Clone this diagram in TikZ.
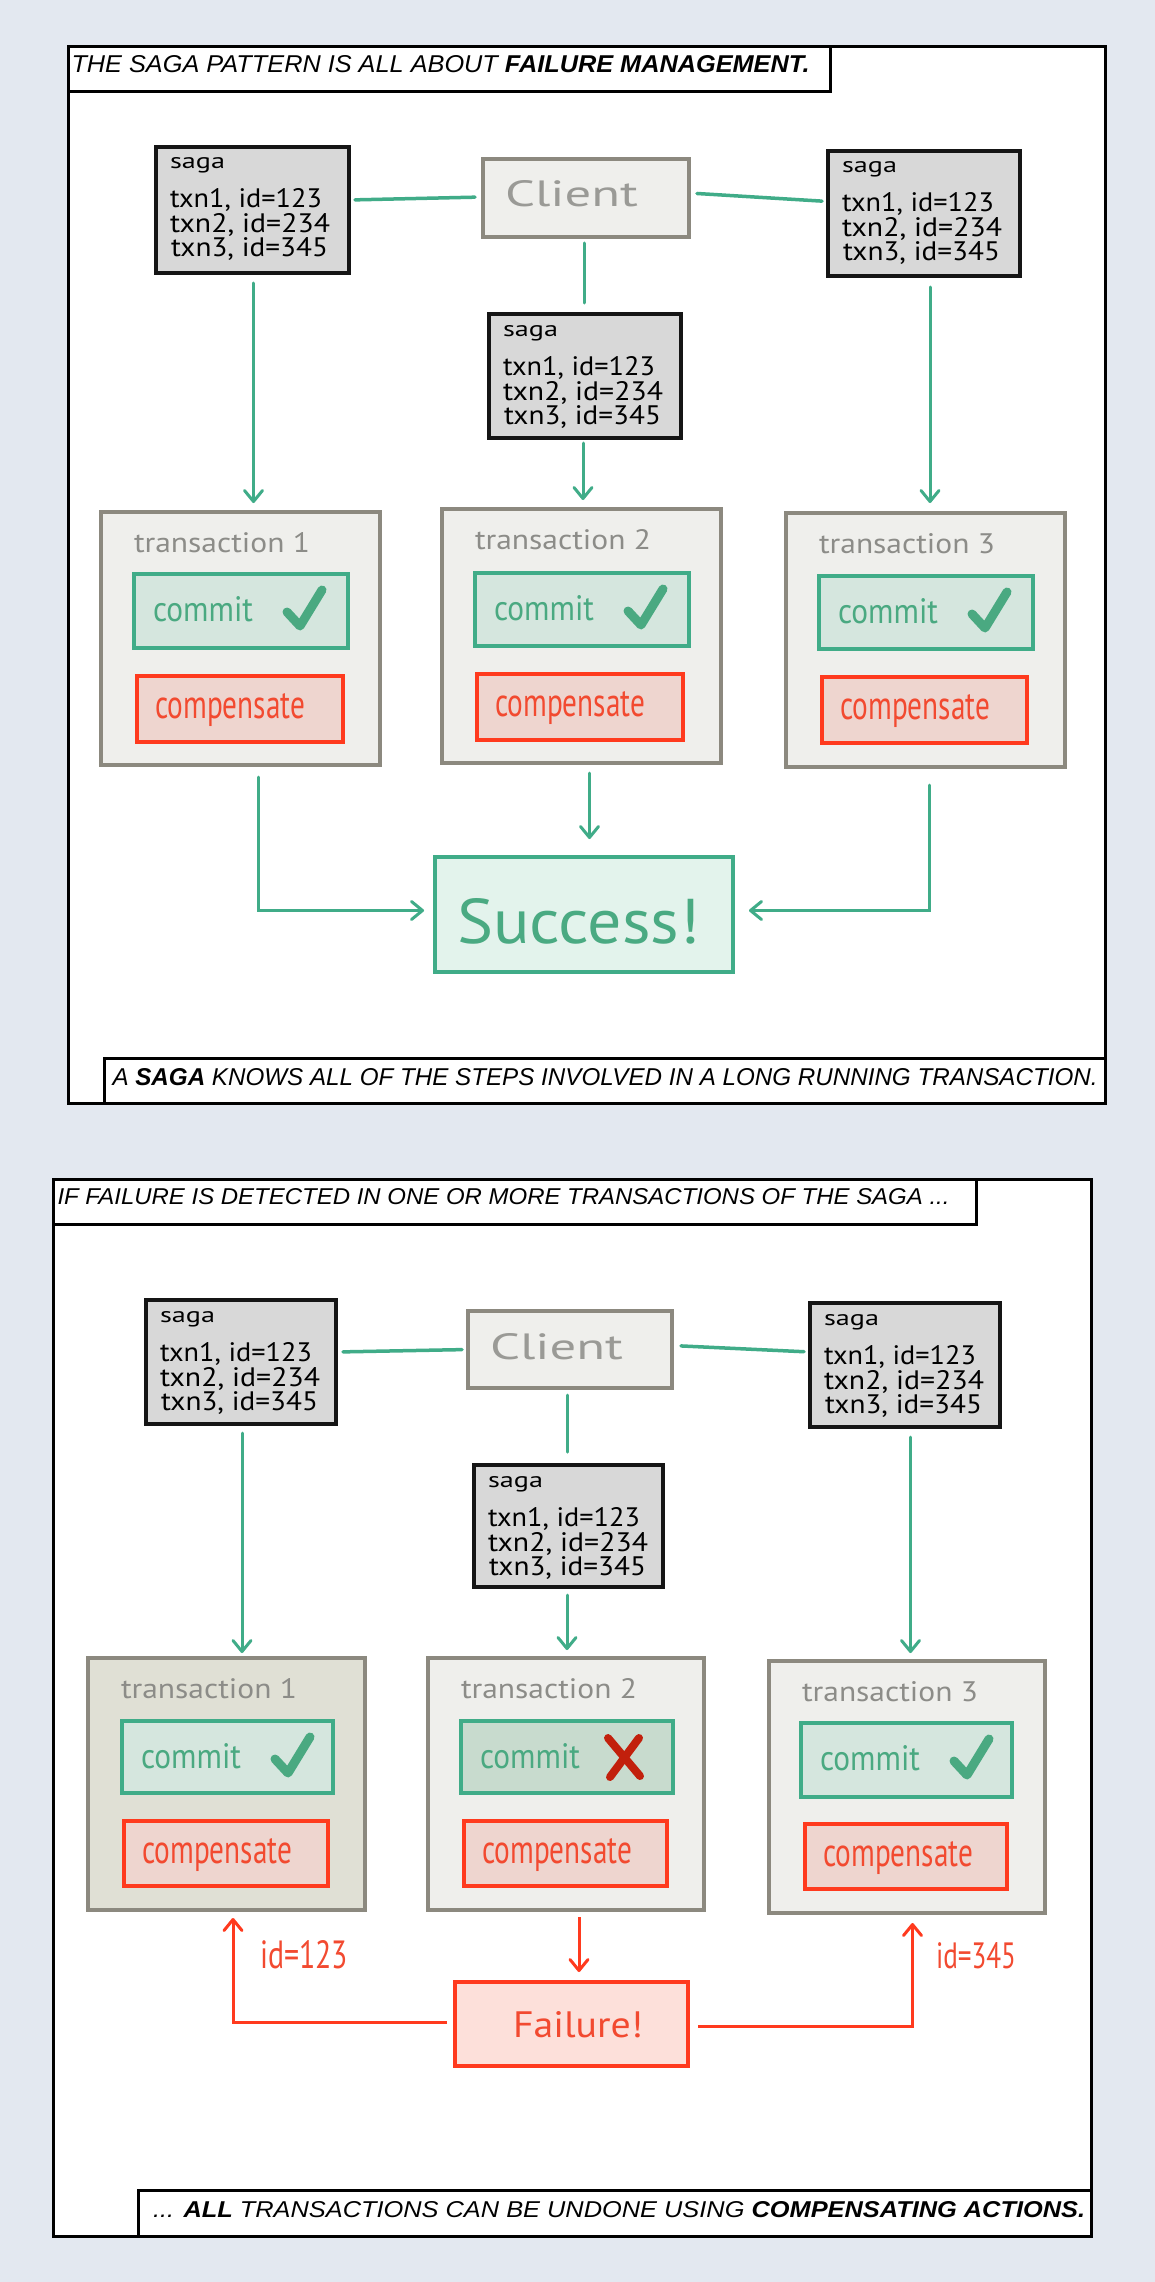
\documentclass[tikz,border=0pt]{standalone}
\usepackage{fontspec}
\usetikzlibrary{arrows.meta,calc}
\newfontfamily\hand{PT Sans}
\newfontfamily\capfont{Liberation Sans}
\definecolor{bgc}{HTML}{E3E8F0}
\definecolor{sagafill}{HTML}{D8D8D8}
\definecolor{sagaborder}{HTML}{151515}
\definecolor{clientfill}{HTML}{EFEFEC}
\definecolor{txborder}{HTML}{8C897F}
\definecolor{clienttext}{HTML}{9A9A96}
\definecolor{txfill}{HTML}{EFEFEC}
\definecolor{txfilldark}{HTML}{E0E0D5}
\definecolor{txtitle}{HTML}{8C8C88}
\definecolor{grn}{HTML}{40AC88}
\definecolor{commitfill}{HTML}{D5E6DE}
\definecolor{commitfilldark}{HTML}{C8DBCE}
\definecolor{checkc}{HTML}{4AA981}
\definecolor{redb}{HTML}{FF3A1E}
\definecolor{compfill}{HTML}{EED5CF}
\definecolor{comptext}{HTML}{F24A30}
\definecolor{succfill}{HTML}{E3F3EC}
\definecolor{succtext}{HTML}{4AAA82}
\definecolor{failfill}{HTML}{FDE0DA}
\definecolor{xmarkc}{HTML}{C2200C}
\newcommand\fitt[3]{\resizebox{#1pt}{#2pt}{#3}}
\newcommand\bx[6]{\node[#1, minimum width=#5pt, minimum height=#6pt] (#2) at (#3,#4) {};}
\newcommand\sagatexts[1]{%
  \node[txt] (#1-a) at ($(#1.north west)+(14,22)$) {\fitt{55}{11}{\hand saga}};
  \node[txt] (#1-b) at ($(#1.north west)+(14,61)$) {\fitt{152}{19}{\hand txn1, id=123}};
  \node[txt] (#1-c) at ($(#1.north west)+(14,86)$) {\fitt{160}{19}{\hand txn2, id=234}};
  \node[txt] (#1-d) at ($(#1.north west)+(15,110)$) {\fitt{157}{19}{\hand txn3, id=345}};}
\newcommand\committext[1]{%
  \node[txt, text=checkc] (#1-t) at ($(#1.north west)+(19,47)$) {\fitt{100}{25}{\hand commit}};}
\newcommand\comptext[1]{%
  \node[txt, text=comptext] (#1-t) at ($(#1.north west)+(18,42)$) {\fitt{150}{25}{\hand compensate}};}
\newcommand\chkmark[1]{%
  \draw[check] ($(#1.north west)+(153,38)$) -- ++(13,14) -- ++(22,-36);}
\newcommand\txtitle[2]{%
  \node[txt, text=txtitle] (#1-t) at ($(#1.north west)+(33,40)$) {\fitt{176}{20}{\hand transaction #2}};}
\tikzset{
  box/.style={inner sep=0pt, outer sep=0pt, anchor=north west},
  panel/.style={box, draw=black, fill=white, line width=3pt},
  sagabx/.style={box, draw=sagaborder, fill=sagafill, line width=4pt},
  clientbx/.style={box, draw=txborder, fill=clientfill, line width=4pt},
  txbx/.style={box, draw=txborder, fill=txfill, line width=4pt},
  commitbx/.style={box, draw=grn, fill=commitfill, line width=4pt},
  compbx/.style={box, draw=redb, fill=compfill, line width=3.5pt},
  succbx/.style={box, draw=grn, fill=succfill, line width=4pt},
  failbx/.style={box, draw=redb, fill=failfill, line width=4pt},
  txt/.style={inner sep=0pt, outer sep=0pt, anchor=base west},
  gline/.style={draw=grn, line width=3.5pt, line cap=round},
  gvline/.style={draw=grn, line width=3pt, line cap=round},
  garrow/.style={draw=grn, line width=3pt, line cap=round,
    -{Straight Barb[length=11pt,width=18pt,round]}},
  rarrow/.style={draw=redb, line width=3pt,
    -{Straight Barb[length=11pt,width=18pt,round]}},
  check/.style={draw=checkc, line width=9pt, line cap=round, line join=round},
  xmark/.style={draw=xmarkc, line width=8pt, line cap=round},
}
\begin{document}
\begin{tikzpicture}[x=1pt,y=-1pt]
\useasboundingbox (0,0) rectangle (1155,2282);
\fill[bgc] (0,0) rectangle (1155,2282);

% ================= PANEL 1 =================
\bx{panel}{P1}{68}{47}{1037}{1056}
\bx{panel}{P1title}{68}{47}{762}{45}
\node[txt] (P1tt) at (71.5,73) {\fitt{738}{17}{\capfont\itshape THE SAGA PATTERN IS ALL ABOUT \bfseries FAILURE MANAGEMENT.}};
\bx{panel}{P1cap}{104}{1058}{1001}{45}
\node[txt] (P1ct) at (112.5,1085) {\fitt{985}{17}{\capfont\itshape A \bfseries SAGA \mdseries KNOWS ALL OF THE STEPS INVOLVED IN A LONG RUNNING TRANSACTION.}};

\bx{sagabx}{sL1}{156}{147}{193}{126}
\sagatexts{sL1}
\bx{clientbx}{cl1}{483}{159}{206}{78}
\node[txt, text=clienttext] (cl1-t) at ($(cl1.north west)+(22,48)$) {\fitt{133}{26}{\hand Client}};
\bx{sagabx}{sR1}{828}{151}{192}{125}
\sagatexts{sR1}
\bx{sagabx}{sM1}{489}{314}{192}{124}
\sagatexts{sM1}

\bx{txbx}{T1}{101}{512}{279}{253}
\bx{txbx}{T2}{442}{509}{279}{254}
\bx{txbx}{T3}{786}{513}{279}{254}
\txtitle{T1}{1}
\txtitle{T2}{2}
\txtitle{T3}{3}
\bx{commitbx}{c1}{134}{574}{214}{74}
\bx{commitbx}{c2}{475}{573}{214}{73}
\bx{commitbx}{c3}{819}{576}{214}{73}
\committext{c1}\committext{c2}\committext{c3}
\chkmark{c1}\chkmark{c2}\chkmark{c3}
\bx{compbx}{p1}{137}{676}{206}{66}
\bx{compbx}{p2}{477}{674}{206}{66}
\bx{compbx}{p3}{822}{677}{205}{66}
\comptext{p1}\comptext{p2}\comptext{p3}

\bx{succbx}{succ}{435}{857}{298}{115}
\node[txt, text=succtext] (succ-t) at ($(succ.north west)+(22,86)$) {\fitt{243}{45}{\hand Success!}};

\draw[gline, shorten <=6pt, shorten >=8pt] ([yshift=10pt]sL1.east) -- ([yshift=1pt]cl1.west);
\draw[gline, shorten <=8pt, shorten >=6pt] ([yshift=5pt]cl1.east) -- ([yshift=12pt]sR1.west);
\draw[gvline, shorten <=6pt, shorten >=11pt] ([xshift=-2pt]cl1.south) -- ([xshift=-2pt]cl1.south |- sM1.north);
\draw[garrow, shorten <=10pt, shorten >=9pt] ([xshift=1pt]sL1.south) -- ([xshift=1pt]sL1.south |- T1.north);
\draw[garrow, shorten <=5pt, shorten >=9pt] ([xshift=-2pt]sM1.south) -- ([xshift=-2pt]sM1.south |- T2.north);
\draw[garrow, shorten <=11pt, shorten >=10pt] ([xshift=6pt]sR1.south) -- ([xshift=6pt]sR1.south |- T3.north);
\draw[garrow, shorten <=12pt, shorten >=11pt] ([xshift=18pt]T1.south) |- ([yshift=4pt]succ.west);
\draw[garrow, shorten <=10pt, shorten >=18pt] ([xshift=8pt]T2.south) -- ([xshift=8pt]T2.south |- succ.north);
\draw[garrow, shorten <=18pt, shorten >=16pt] ([xshift=4pt]T3.south) |- ([yshift=4pt]succ.east);

% ================= PANEL 2 =================
\bx{panel}{P2}{53}{1179}{1038}{1057}
\bx{panel}{P2title}{53}{1179}{923}{45}
\node[txt] (P2tt) at (57.5,1204) {\fitt{892}{16}{\capfont\itshape IF FAILURE IS DETECTED IN ONE OR MORE TRANSACTIONS OF THE SAGA ...}};
\bx{panel}{P2cap}{138.5}{2190}{952.5}{46}
\node[txt] (P2ct) at (153,2217) {\fitt{932}{16}{\capfont\itshape ... \bfseries ALL \mdseries TRANSACTIONS CAN BE UNDONE USING \bfseries COMPENSATING ACTIONS.}};

\bx{sagabx}{sL2}{146}{1300}{190}{124}
\sagatexts{sL2}
\bx{clientbx}{cl2}{468}{1311}{204}{77}
\node[txt, text=clienttext] (cl2-t) at ($(cl2.north west)+(22,48)$) {\fitt{133}{26}{\hand Client}};
\bx{sagabx}{sR2}{810}{1303}{190}{124}
\sagatexts{sR2}
\bx{sagabx}{sM2}{474}{1465}{189}{122}
\sagatexts{sM2}

\bx{txbx, fill=txfilldark}{U1}{88}{1658}{277}{252}
\bx{txbx}{U2}{428}{1658}{276}{252}
\bx{txbx}{U3}{769}{1661}{276}{252}
\txtitle{U1}{1}
\txtitle{U2}{2}
\txtitle{U3}{3}
\bx{commitbx}{d1}{122}{1721}{211}{72}
\bx{commitbx, fill=commitfilldark}{d2}{461}{1721}{212}{72}
\bx{commitbx}{d3}{801}{1723}{211}{74}
\committext{d1}\committext{d2}\committext{d3}
\chkmark{d1}\chkmark{d3}
\draw[xmark] ($(d2.north west)+(147,17)$) -- ++(32,38);
\draw[xmark] ($(d2.north west)+(178,17)$) -- ++(-29,39);
\bx{compbx}{q1}{124}{1821}{204}{65}
\bx{compbx}{q2}{464}{1821}{203}{65}
\bx{compbx}{q3}{805}{1824}{202}{65}
\comptext{q1}\comptext{q2}\comptext{q3}

\bx{failbx}{fail}{455}{1982}{233}{84}
\node[txt, text=comptext] (fail-t) at ($(fail.north west)+(58,55)$) {\fitt{130}{26}{\hand Failure!}};

\draw[gline, shorten <=7pt, shorten >=6pt] ([yshift=10pt]sL2.east) -- ([yshift=0pt]cl2.west);
\draw[gline, shorten <=9pt, shorten >=6pt] ([yshift=4pt]cl2.east) -- ([yshift=13pt]sR2.west);
\draw[gvline, shorten <=7pt, shorten >=13pt] ([xshift=-3pt]cl2.south) -- ([xshift=-3pt]cl2.south |- sM2.north);
\draw[garrow, shorten <=9pt, shorten >=5pt] ([xshift=1pt]sL2.south) -- ([xshift=1pt]sL2.south |- U1.north);
\draw[garrow, shorten <=8pt, shorten >=8pt] ([xshift=-1.5pt]sM2.south) -- ([xshift=-1.5pt]sM2.south |- U2.north);
\draw[garrow, shorten <=10pt, shorten >=8pt] ([xshift=5.5pt]sR2.south) -- ([xshift=5.5pt]sR2.south |- U3.north);
\draw[rarrow, shorten <=7pt, shorten >=10pt] ([xshift=13pt]U2.south) -- ([xshift=13pt]U2.south |- fail.north);
\draw[rarrow, shorten <=8pt, shorten >=8pt] ([yshift=2pt]fail.west) -| ([xshift=6.5pt]U1.south);
\draw[rarrow, shorten <=10pt, shorten >=10pt] ([yshift=-2pt]fail.east) -| ([xshift=5.5pt]U3.south);
\node[txt, text=comptext] (lab123) at (260,1968) {\fitt{88}{28}{\hand id=123}};
\node[txt, text=comptext] (lab345) at (936,1968) {\fitt{80}{26}{\hand id=345}};
\end{tikzpicture}
\end{document}
